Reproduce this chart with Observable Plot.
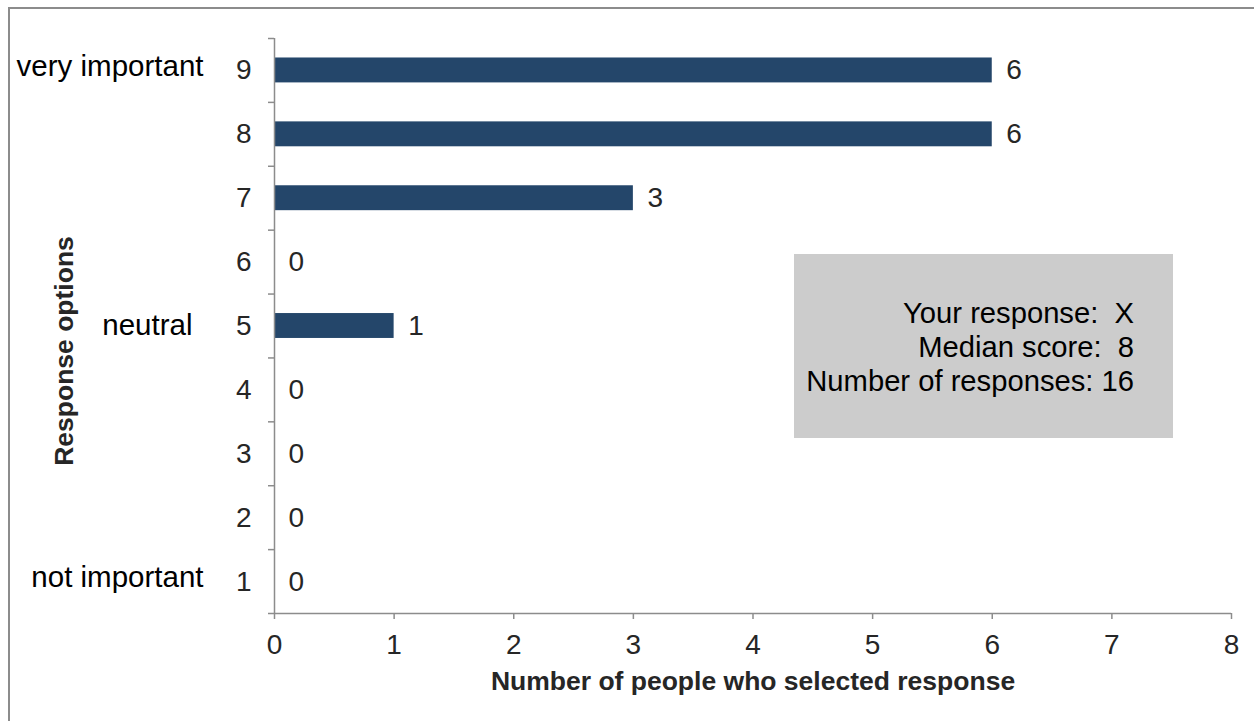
<!DOCTYPE html>
<html>
<head>
<meta charset="utf-8">
<script src="https://cdn.jsdelivr.net/npm/d3@7"></script>
<script src="https://cdn.jsdelivr.net/npm/@observablehq/plot@0.6"></script>
<style>
  html, body { margin: 0; padding: 0; background: #fff; overflow: hidden; }
  #wrap { position: relative; width: 1254px; height: 721px; overflow: hidden; font-family: "Liberation Sans", Arial, sans-serif; }
  #border { position: absolute; left: 8px; top: 7px; width: 1300px; height: 800px; border: 2px solid #8c8c8c; box-sizing: border-box; }
  #chart { position: absolute; left: 0; top: 0; }
  #infobox { position: absolute; left: 794px; top: 254px; width: 379px; height: 184px; background: #cccccc; }
  #infobox div { position: absolute; right: 39px; white-space: pre; font-size: 29.2px; color: #000; text-align: right; line-height: 34px; }
</style>
</head>
<body>
<div id="wrap">
  <div id="border"></div>
  <div id="chart"></div>
  <div id="infobox"></div>
</div>
<script>
// Data
const responses = [9, 8, 7, 6, 5, 4, 3, 2, 1];
const counts = [6, 6, 3, 0, 1, 0, 0, 0, 0];
const xTicks = [0, 1, 2, 3, 4, 5, 6, 7, 8];
const anchorResponses = [9, 5, 1];
const anchorLabels = ["very important", "neutral", "not important"];
const infoLines = ["Your response:  X", "Median score:  8", "Number of responses: 16"];
const xTitle = "Number of people who selected response";
const yTitle = "Response options";

const data = responses.map((r, i) => ({resp: r, count: counts[i]}));
const anchors = anchorResponses.map((r, i) => ({resp: r, label: anchorLabels[i]}));
const endAnchors = anchors.filter((d, i) => i !== 1);
const midAnchors = anchors.filter((d, i) => i === 1);

const W = 1254, H = 721;
const mL = 274, mR = 23, mT = 38, mB = 108;
const step = (H - mT - mB) / responses.length;
const pxPerUnit = (W - mL - mR) / (xTicks[xTicks.length - 1] - xTicks[0]);
const tickU = 6 / pxPerUnit;
const axisGray = "#8c8c8c";

const chart = Plot.plot({
  width: W,
  height: H,
  marginLeft: mL,
  marginRight: mR,
  marginTop: mT,
  marginBottom: mB,
  style: {fontFamily: "'Liberation Sans', Arial, sans-serif", fontSize: "28px", background: "transparent", overflow: "visible"},
  x: {domain: [0, 8], axis: null},
  y: {type: "band", domain: responses, paddingInner: 0.61, paddingOuter: 0.305, round: false, axis: null},
  marks: [
    Plot.barX(data, {x: "count", y: "resp", fill: "#24466a"}),
    Plot.ruleX([0], {stroke: axisGray, strokeWidth: 1.5}),
    Plot.ruleY(responses, {y: d => d, dy: -step / 2, x1: -tickU, x2: 0, stroke: axisGray, strokeWidth: 1.5}),
    Plot.ruleY([responses[responses.length - 1]], {y: d => d, dy: step / 2, x1: -tickU, x2: xTicks[xTicks.length - 1], stroke: axisGray, strokeWidth: 1.5}),
    Plot.axisX({ticks: xTicks, tickSize: 6, tickPadding: 15, fontSize: 28, stroke: axisGray, strokeWidth: 1.5, fill: "#262626", label: null, tickFormat: d => String(d)}),
    Plot.axisY({tickSize: 0, tickPadding: 23, fontSize: 28, fill: "#262626", label: null, tickFormat: d => String(d)}),
    Plot.text(data, {x: "count", y: "resp", text: d => String(d.count), textAnchor: "start", dx: 14, fontSize: 28, fill: "#262626"}),
    Plot.text(endAnchors, {y: "resp", text: "label", frameAnchor: "left", dx: -71, dy: -4, textAnchor: "end", fontSize: 29.5, fill: "#000"}),
    Plot.text(midAnchors, {y: "resp", text: "label", frameAnchor: "left", dx: -82, textAnchor: "end", fontSize: 29.5, fill: "#000"}),
    Plot.text([xTitle], {frameAnchor: "bottom", dy: 68, lineAnchor: "middle", textAnchor: "middle", text: d => d, fontSize: 26.5, fontWeight: "bold", fill: "#262626"}),
    Plot.text([yTitle], {frameAnchor: "left", dx: -210, dy: 25, rotate: -90, textAnchor: "middle", lineAnchor: "middle", text: d => d, fontSize: 26.5, fontWeight: "bold", fill: "#262626"})
  ]
});
document.getElementById("chart").appendChild(chart);

const box = document.getElementById("infobox");
infoLines.forEach((t, i) => {
  const div = document.createElement("div");
  div.textContent = t;
  div.style.top = (42 + i * 34) + "px";
  box.appendChild(div);
});
</script>
</body>
</html>
